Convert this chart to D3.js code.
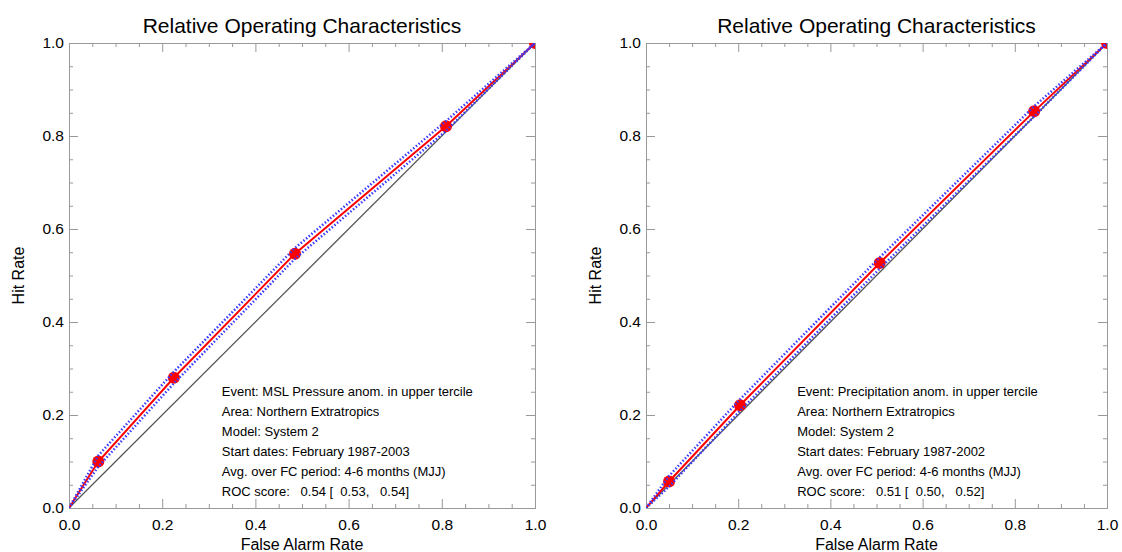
<!DOCTYPE html>
<html>
<head>
<meta charset="utf-8">
<script src="https://cdn.jsdelivr.net/npm/d3@7"></script>
<style>
body { margin: 0; background: #fff; }
text { font-family: "Liberation Sans", Arial, sans-serif; }
</style>
</head>
<body>
<div id="chart"></div>
<script>
// ROC curves
var leftFar = [0, 0.063, 0.225, 0.485, 0.809, 1];
var leftHit = [0, 0.100, 0.280, 0.547, 0.821, 1];
var leftHitUpper = [0, 0.113, 0.293, 0.559, 0.832, 1];
var leftHitLower = [0, 0.089, 0.268, 0.536, 0.811, 1];

var rightFar = [0, 0.050, 0.204, 0.507, 0.842, 1];
var rightHit = [0, 0.057, 0.221, 0.527, 0.853, 1];
var rightHitUpper = [0, 0.069, 0.234, 0.539, 0.864, 1];
var rightHitLower = [0, 0.046, 0.209, 0.515, 0.842, 1];

var majorTicks = [0, 0.2, 0.4, 0.6, 0.8, 1.0];
var minorTicks = [0.05, 0.1, 0.15, 0.25, 0.3, 0.35, 0.45, 0.5, 0.55, 0.65, 0.7, 0.75, 0.85, 0.9, 0.95];

var leftText = [
    "Event: MSL Pressure anom. in upper tercile",
    "Area: Northern Extratropics",
    "Model: System 2",
    "Start dates: February 1987-2003",
    "Avg. over FC period: 4-6 months (MJJ)",
    "ROC score:   0.54 [  0.53,   0.54]"
];
var rightText = [
    "Event: Precipitation anom. in upper tercile",
    "Area: Northern Extratropics",
    "Model: System 2",
    "Start dates: February 1987-2002",
    "Avg. over FC period: 4-6 months (MJJ)",
    "ROC score:   0.51 [  0.50,   0.52]"
];

var width = 1122;
var height = 552;

var svg = d3.select("#chart")
    .append("svg")
    .attr("width", width)
    .attr("height", height);

function drawPanel(id, x0, x1, far, hit, upper, lower, lines) {
    var top = 43, bottom = 508;
    var x = d3.scaleLinear().domain([0, 1]).range([x0, x1]);
    var y = d3.scaleLinear().domain([0, 1]).range([bottom, top]);
    var g = svg.append("g");
    var axisColor = "#999";

    g.append("clipPath").attr("id", "clip" + id)
        .append("rect")
        .attr("x", x0).attr("y", top)
        .attr("width", x1 - x0).attr("height", bottom - top);

    // axes: major ticks with labels, minor ticks, all pointing inward
    var axes = [
        [d3.axisBottom(x), "translate(0," + bottom + ")", true, 11],
        [d3.axisTop(x), "translate(0," + top + ")", false, 5],
        [d3.axisLeft(y), "translate(" + x0 + ",0)", true, 5],
        [d3.axisRight(y), "translate(" + x1 + ",0)", false, 5]
    ];
    axes.forEach(function(a) {
        var major = a[0].tickValues(majorTicks).tickSize(-9).tickPadding(a[3])
            .tickFormat(a[2] ? d3.format(".1f") : "");
        var ax = g.append("g").attr("transform", a[1]).call(major);
        ax.select(".domain").attr("stroke", axisColor);
        ax.selectAll(".tick line").attr("stroke", axisColor);
        ax.selectAll("text").attr("font-size", "15.5px").attr("fill", "#000")
            .attr("font-family", "Liberation Sans, Arial, sans-serif");
        var minorAxis = a[0].tickValues(minorTicks).tickSize(-4).tickFormat("");
        var mx = g.append("g").attr("transform", a[1]).call(minorAxis);
        mx.select(".domain").remove();
        mx.selectAll(".tick line").attr("stroke", axisColor);
    });

    var plot = g.append("g").attr("clip-path", "url(#clip" + id + ")");

    // no-skill diagonal
    plot.append("line")
        .attr("x1", x(0)).attr("y1", y(0))
        .attr("x2", x(1)).attr("y2", y(1))
        .attr("stroke", "#555")
        .attr("stroke-width", 1.3);

    var line = d3.line()
        .x(function(d) { return x(d[0]); })
        .y(function(d) { return y(d[1]); });

    plot.append("path")
        .attr("d", line(d3.zip(far, hit)))
        .attr("fill", "none")
        .attr("stroke", "#ff0000")
        .attr("stroke-width", 2);

    plot.selectAll(".pt")
        .data(d3.zip(far, hit).slice(1))
        .enter().append("circle")
        .attr("class", "pt")
        .attr("cx", function(d) { return x(d[0]); })
        .attr("cy", function(d) { return y(d[1]); })
        .attr("r", 6)
        .attr("fill", "#ff0000");

    [upper, lower].forEach(function(b) {
        plot.append("path")
            .attr("d", line(d3.zip(far, b)))
            .attr("fill", "none")
            .attr("stroke", "#3a3aff")
            .attr("stroke-width", 2.5)
            .attr("stroke-dasharray", "1.5,2");
    });

    // titles
    var cx = (x0 + x1) / 2;
    g.append("text")
        .attr("x", cx).attr("y", 33)
        .attr("text-anchor", "middle")
        .style("font-size", "21px")
        .text("Relative Operating Characteristics");

    g.append("text")
        .attr("x", cx).attr("y", 550)
        .attr("text-anchor", "middle")
        .style("font-size", "16px")
        .text("False Alarm Rate");

    g.append("text")
        .attr("transform", "translate(" + (x0 - 45) + "," + ((top + bottom) / 2) + ") rotate(-90)")
        .attr("text-anchor", "middle")
        .style("font-size", "16px")
        .text("Hit Rate");

    // info box
    g.selectAll(".info")
        .data(lines)
        .enter().append("text")
        .attr("class", "info")
        .attr("x", x(0.328))
        .attr("y", function(d, i) { return 396 + i * 20; })
        .attr("xml:space", "preserve")
        .style("white-space", "pre")
        .style("font-size", "13px")
        .text(function(d) { return d; });
}

drawPanel("L", 69, 535, leftFar, leftHit, leftHitUpper, leftHitLower, leftText);
drawPanel("R", 646, 1107, rightFar, rightHit, rightHitUpper, rightHitLower, rightText);
</script>
</body>
</html>
